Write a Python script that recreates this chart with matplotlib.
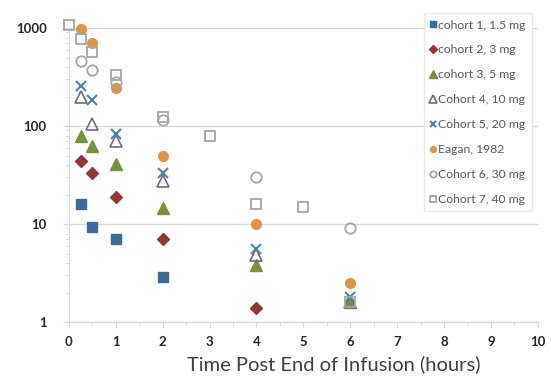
import matplotlib

matplotlib.use("Agg")
import matplotlib.pyplot as plt
from matplotlib.ticker import FixedLocator, NullFormatter

plt.rcParams["font.family"] = ["Lato", "DejaVu Sans"]

# hours post end of infusion, concentration values
c1_t = [0.25, 0.5, 1, 2]
c1_v = [16, 9.4, 7.1, 2.9]
c2_t = [0.25, 0.5, 1, 2, 4]
c2_v = [44, 33, 19, 7.1, 1.4]
c3_t = [0.25, 0.5, 1, 2, 4, 6]
c3_v = [79, 63, 41, 14.7, 3.8, 1.6]
c4_t = [0.25, 0.5, 1, 2, 4, 6]
c4_v = [200, 105, 70, 27.6, 4.8, 1.6]
c5_t = [0.25, 0.5, 1, 2, 4, 6]
c5_v = [255, 183, 83, 33, 5.6, 1.8]
eagan_t = [0.25, 0.5, 1, 2, 4, 6]
eagan_v = [980, 700, 244, 50, 10, 2.5]
c6_t = [0.25, 0.5, 1, 2, 4, 6]
c6_v = [457, 370, 280, 115, 30, 9.0]
c7_t = [0, 0.25, 0.5, 1, 2, 3, 4, 5, 6]
c7_v = [1085, 765, 563, 330, 125, 79, 16, 15, 1.6]

series = [
    ("cohort 1, 1.5 mg", c1_t, c1_v, dict(marker="s", color="#3B6C9A", ms=7)),
    ("cohort 2, 3 mg", c2_t, c2_v, dict(marker="D", color="#943634", ms=6.5)),
    ("cohort 3, 5 mg", c3_t, c3_v, dict(marker="^", color="#76923C", ms=9)),
    ("Cohort 4, 10 mg", c4_t, c4_v, dict(marker="^", color="none", mec="#6E6A8E", mew=1.2, ms=9)),
    ("Cohort 5, 20 mg", c5_t, c5_v, dict(marker="x", color="#4A86A8", mew=1.5, ms=7)),
    ("Eagan, 1982", eagan_t, eagan_v, dict(marker="o", color="#E09447", ms=7)),
    ("Cohort 6, 30 mg", c6_t, c6_v, dict(marker="o", color="none", mec="#A6A6A6", mew=1.3, ms=7.5)),
    ("Cohort 7, 40 mg", c7_t, c7_v, dict(marker="s", color="none", mec="#A6A6A6", mew=1.3, ms=7.5)),
]

fig = plt.figure(figsize=(5.51, 3.76), dpi=100)
ax = fig.add_axes([0.125, 0.1436, 0.851, 0.7819])

for label, t, v, style in series:
    face = style.pop("color")
    mec = style.pop("mec", face)
    ax.plot(t, v, linestyle="none", mfc=face, mec=mec, label=label, clip_on=False, zorder=3, **style)

ax.set_yscale("log")
ax.set_ylim(1, 1000)
ax.set_xlim(0, 10)
ax.set_xticks(range(0, 11))
ax.xaxis.set_minor_locator(FixedLocator([i + 0.5 for i in range(10)]))
ax.set_yticks([1, 10, 100, 1000])
ax.set_yticklabels(["1", "10", "100", "1000"])
ax.yaxis.set_minor_formatter(NullFormatter())

ax.grid(True, axis="y", which="major", color="#D9D9D9", linewidth=1.0)
ax.set_axisbelow(True)
for side in ("top", "right"):
    ax.spines[side].set_visible(False)
for side in ("left", "bottom"):
    ax.spines[side].set_color("#D9D9D9")

ax.tick_params(axis="both", which="major", labelsize=9.5, colors="#D9D9D9", labelcolor="#262626", length=4)
ax.tick_params(axis="y", which="major", pad=12)
ax.tick_params(axis="x", which="major", pad=6)
ax.tick_params(axis="both", which="minor", colors="#D9D9D9", length=3)
for lbl in ax.get_xticklabels() + ax.get_yticklabels():
    lbl.set_fontweight("bold")

ax.set_xlabel("Time Post End of Infusion (hours)", fontsize=14.5, color="#404040")
ax.xaxis.set_label_coords(0.565, -0.145)
ax.xaxis.label.set_va("center")

leg = ax.legend(
    loc="upper right",
    bbox_to_anchor=(1.0, 1.07),
    fontsize=8.7,
    labelspacing=1.15,
    handlelength=0.5,
    handletextpad=0.2,
    markerscale=0.6,
    frameon=True,
    borderpad=0.5,
)
leg.get_frame().set_facecolor("white")
leg.get_frame().set_edgecolor("#E6E6E6")
leg.get_frame().set_alpha(0.9)
leg.get_frame().set_boxstyle("square", pad=0.0)
for text in leg.get_texts():
    text.set_color("#595959")

fig.savefig("out.png", dpi=100)
